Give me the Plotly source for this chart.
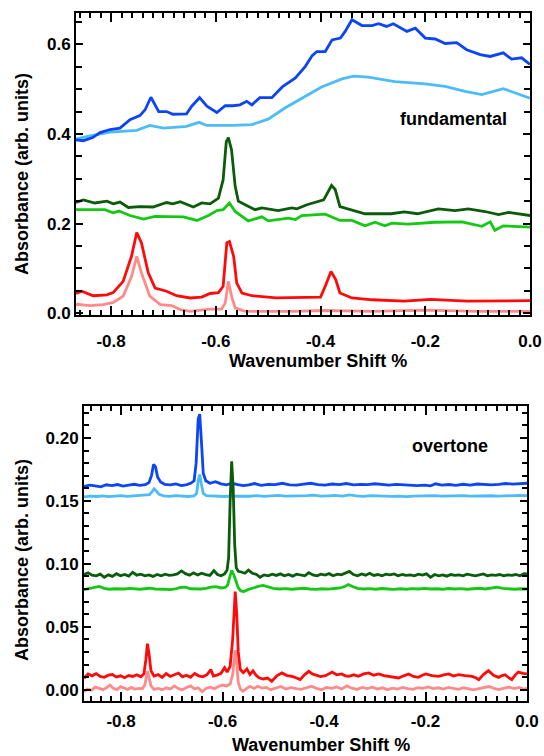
import plotly.graph_objects as go

# ---------------- tick labels ----------------
x_tick_vals = [-0.8, -0.6, -0.4, -0.2, 0.0]
x_tick_text = ["-0.8", "-0.6", "-0.4", "-0.2", "0.0"]

# ---------------- data: fundamental (top panel) ----------------
fund_dark_blue = [(-0.867,0.387),(-0.853,0.385),(-0.835,0.392),(-0.821,0.403),(-0.802,0.410),(-0.783,0.413),
    (-0.764,0.432),(-0.745,0.441),(-0.735,0.454),(-0.724,0.482),(-0.709,0.450),(-0.694,0.450),(-0.682,0.444),
    (-0.656,0.445),(-0.646,0.462),(-0.631,0.481),(-0.617,0.462),(-0.610,0.457),(-0.598,0.448),(-0.582,0.463),
    (-0.567,0.463),(-0.554,0.465),(-0.541,0.473),(-0.531,0.465),(-0.516,0.481),(-0.503,0.481),(-0.493,0.481),
    (-0.473,0.505),(-0.448,0.525),(-0.429,0.551),(-0.416,0.575),(-0.407,0.584),(-0.391,0.584),(-0.378,0.610),
    (-0.362,0.614),(-0.353,0.629),(-0.340,0.655),(-0.321,0.642),(-0.302,0.642),(-0.289,0.646),(-0.274,0.640),
    (-0.261,0.646),(-0.235,0.629),(-0.219,0.636),(-0.200,0.614),(-0.181,0.612),(-0.162,0.602),(-0.140,0.604),
    (-0.121,0.588),(-0.095,0.577),(-0.076,0.573),(-0.051,0.581),(-0.035,0.567),(-0.016,0.570),(0.0,0.555)]
fund_light_blue = [(-0.867,0.389),(-0.840,0.396),(-0.802,0.404),(-0.751,0.408),(-0.726,0.419),(-0.700,0.413),
    (-0.656,0.417),(-0.632,0.426),(-0.617,0.419),(-0.567,0.419),(-0.531,0.421),(-0.500,0.433),(-0.468,0.458),
    (-0.430,0.484),(-0.398,0.505),(-0.359,0.523),(-0.337,0.529),(-0.309,0.527),(-0.280,0.521),(-0.258,0.517),
    (-0.200,0.512),(-0.162,0.506),(-0.124,0.495),(-0.092,0.488),(-0.051,0.501),(0.0,0.480)]
fund_dark_green = [(-0.867,0.247),(-0.853,0.253),(-0.831,0.246),(-0.808,0.250),(-0.796,0.244),(-0.783,0.248),
    (-0.767,0.236),(-0.745,0.238),(-0.720,0.237),(-0.694,0.247),(-0.682,0.244),(-0.668,0.249),(-0.643,0.237),
    (-0.627,0.246),(-0.611,0.244),(-0.595,0.257),(-0.586,0.298),(-0.580,0.383),(-0.576,0.392),(-0.570,0.365),
    (-0.563,0.283),(-0.557,0.250),(-0.544,0.242),(-0.525,0.231),(-0.512,0.235),(-0.481,0.229),(-0.455,0.235),
    (-0.445,0.233),(-0.426,0.242),(-0.394,0.253),(-0.379,0.285),(-0.372,0.276),(-0.363,0.238),(-0.340,0.231),
    (-0.315,0.222),(-0.296,0.222),(-0.265,0.222),(-0.240,0.226),(-0.215,0.222),(-0.175,0.233),(-0.143,0.229),
    (-0.118,0.233),(-0.086,0.227),(-0.060,0.220),(-0.041,0.225),(0.0,0.218)]
fund_light_green = [(-0.867,0.231),(-0.812,0.231),(-0.796,0.224),(-0.785,0.228),(-0.764,0.218),(-0.738,0.210),
    (-0.716,0.216),(-0.688,0.216),(-0.662,0.215),(-0.636,0.207),(-0.614,0.218),(-0.598,0.229),(-0.586,0.231),
    (-0.574,0.246),(-0.563,0.227),(-0.538,0.206),(-0.512,0.215),(-0.500,0.206),(-0.461,0.212),(-0.448,0.209),
    (-0.436,0.218),(-0.391,0.221),(-0.363,0.207),(-0.340,0.207),(-0.315,0.195),(-0.296,0.203),(-0.277,0.195),
    (-0.264,0.201),(-0.233,0.199),(-0.181,0.203),(-0.130,0.204),(-0.092,0.194),(-0.076,0.204),(-0.067,0.185),
    (-0.051,0.195),(0.0,0.192)]
fund_red = [(-0.867,0.044),(-0.856,0.049),(-0.834,0.039),(-0.808,0.041),(-0.796,0.046),(-0.777,0.071),
    (-0.761,0.127),(-0.751,0.180),(-0.742,0.157),(-0.729,0.090),(-0.716,0.056),(-0.694,0.049),(-0.675,0.039),
    (-0.649,0.034),(-0.627,0.036),(-0.611,0.044),(-0.595,0.046),(-0.586,0.060),(-0.579,0.157),(-0.574,0.160),
    (-0.566,0.127),(-0.560,0.067),(-0.550,0.045),(-0.531,0.039),(-0.485,0.034),(-0.400,0.036),(-0.391,0.060),
    (-0.380,0.093),(-0.371,0.075),(-0.363,0.045),(-0.340,0.034),(-0.301,0.030),(-0.240,0.027),(-0.190,0.031),
    (-0.120,0.027),(-0.060,0.027),(0.0,0.028)]
fund_pink = [(-0.867,0.020),(-0.840,0.017),(-0.815,0.019),(-0.796,0.024),(-0.777,0.038),(-0.761,0.082),
    (-0.751,0.127),(-0.742,0.090),(-0.726,0.038),(-0.706,0.019),(-0.684,0.017),(-0.668,0.008),(-0.649,0.004),
    (-0.611,0.009),(-0.589,0.009),(-0.582,0.023),(-0.576,0.071),(-0.570,0.038),(-0.563,0.012),(-0.544,0.004),
    (-0.455,0.004),(-0.391,0.006),(-0.300,0.004),(-0.200,0.007),(-0.100,0.004),(0.0,0.004)]

# ---------------- data: overtone (bottom panel) ----------------
ot_dark_blue = [(-0.873,0.1615),(-0.862,0.1625),(-0.851,0.1620),(-0.840,0.1612),(-0.829,0.1628),(-0.818,0.1622),
    (-0.807,0.1630),(-0.796,0.1618),(-0.785,0.1625),(-0.774,0.1632),(-0.763,0.1624),(-0.752,0.1630),(-0.745,0.1645),
    (-0.740,0.1700),(-0.736,0.1790),(-0.732,0.1770),(-0.728,0.1690),(-0.722,0.1650),(-0.714,0.1632),(-0.703,0.1628),
    (-0.692,0.1635),(-0.681,0.1622),(-0.670,0.1630),(-0.662,0.1642),(-0.656,0.1660),(-0.652,0.1800),(-0.648,0.2150),
    (-0.645,0.2190),(-0.642,0.2000),(-0.638,0.1720),(-0.633,0.1660),(-0.625,0.1640),(-0.614,0.1652),(-0.603,0.1635),
    (-0.592,0.1628),(-0.581,0.1640),(-0.570,0.1630),(-0.559,0.1622),(-0.548,0.1628),(-0.537,0.1638),(-0.524,0.1624),
    (-0.510,0.1632),(-0.496,0.1630),(-0.482,0.1640),(-0.468,0.1628),(-0.454,0.1626),(-0.440,0.1634),(-0.426,0.1640),
    (-0.412,0.1630),(-0.398,0.1626),(-0.384,0.1634),(-0.370,0.1630),(-0.356,0.1638),(-0.342,0.1628),(-0.328,0.1632),
    (-0.314,0.1630),(-0.300,0.1636),(-0.286,0.1630),(-0.272,0.1626),(-0.258,0.1632),(-0.244,0.1628),(-0.230,0.1624),
    (-0.216,0.1622),(-0.202,0.1626),(-0.190,0.1620),(-0.180,0.1636),(-0.168,0.1626),(-0.154,0.1630),(-0.140,0.1624),
    (-0.126,0.1632),(-0.112,0.1626),(-0.098,0.1634),(-0.084,0.1630),(-0.070,0.1628),(-0.056,0.1632),(-0.042,0.1638),
    (-0.028,0.1634),(-0.014,0.1636),(0.0,0.1640)]
ot_light_blue = [(-0.873,0.1532),(-0.860,0.1538),(-0.848,0.1535),(-0.836,0.1540),(-0.824,0.1534),(-0.812,0.1538),
    (-0.800,0.1542),(-0.788,0.1536),(-0.776,0.1540),(-0.764,0.1538),(-0.752,0.1542),(-0.744,0.1550),(-0.738,0.1578),
    (-0.735,0.1595),(-0.731,0.1580),(-0.725,0.1552),(-0.716,0.1540),(-0.704,0.1536),(-0.692,0.1542),(-0.680,0.1538),
    (-0.668,0.1535),(-0.656,0.1540),(-0.651,0.1560),(-0.648,0.1660),(-0.645,0.1710),(-0.642,0.1640),(-0.638,0.1560),
    (-0.632,0.1542),(-0.620,0.1538),(-0.608,0.1540),(-0.596,0.1535),(-0.584,0.1538),(-0.572,0.1536),(-0.560,0.1540),
    (-0.546,0.1537),(-0.532,0.1542),(-0.518,0.1536),(-0.504,0.1540),(-0.490,0.1544),(-0.476,0.1538),(-0.462,0.1540),
    (-0.448,0.1536),(-0.434,0.1542),(-0.420,0.1546),(-0.406,0.1538),(-0.392,0.1540),(-0.378,0.1543),(-0.364,0.1538),
    (-0.350,0.1547),(-0.336,0.1540),(-0.322,0.1536),(-0.308,0.1542),(-0.294,0.1538),(-0.280,0.1540),(-0.266,0.1536),
    (-0.252,0.1538),(-0.238,0.1534),(-0.224,0.1538),(-0.210,0.1540),(-0.196,0.1536),(-0.182,0.1542),(-0.168,0.1538),
    (-0.154,0.1540),(-0.140,0.1536),(-0.126,0.1542),(-0.112,0.1538),(-0.098,0.1540),(-0.084,0.1537),(-0.070,0.1541),
    (-0.056,0.1538),(-0.042,0.1542),(-0.028,0.1540),(-0.014,0.1544),(0.0,0.1542)]
ot_dark_green = [(-0.873,0.0915),(-0.865,0.0928),(-0.857,0.0910),(-0.849,0.0905),(-0.841,0.0918),(-0.833,0.0893),
    (-0.825,0.0912),(-0.817,0.0900),(-0.809,0.0922),(-0.801,0.0905),(-0.793,0.0915),(-0.785,0.0902),(-0.777,0.0933),
    (-0.769,0.0910),(-0.761,0.0918),(-0.753,0.0905),(-0.745,0.0912),(-0.737,0.0900),(-0.729,0.0915),(-0.721,0.0905),
    (-0.713,0.0918),(-0.705,0.0908),(-0.697,0.0912),(-0.689,0.0920),(-0.681,0.0944),(-0.673,0.0922),(-0.665,0.0910),
    (-0.657,0.0928),(-0.649,0.0912),(-0.641,0.0925),(-0.633,0.0915),(-0.625,0.0908),(-0.617,0.0946),(-0.610,0.0915),
    (-0.603,0.0905),(-0.596,0.0920),(-0.591,0.0950),(-0.588,0.1050),(-0.585,0.1500),(-0.582,0.1815),(-0.579,0.1600),
    (-0.576,0.1150),(-0.573,0.0970),(-0.569,0.0940),(-0.563,0.0935),(-0.556,0.0925),(-0.549,0.0950),(-0.541,0.0925),
    (-0.533,0.0915),(-0.526,0.0893),(-0.518,0.0912),(-0.510,0.0905),(-0.502,0.0918),(-0.494,0.0908),(-0.486,0.0920),
    (-0.478,0.0905),(-0.470,0.0915),(-0.462,0.0902),(-0.454,0.0918),(-0.446,0.0910),(-0.438,0.0905),(-0.430,0.0930),
    (-0.422,0.0912),(-0.414,0.0905),(-0.406,0.0918),(-0.398,0.0910),(-0.390,0.0922),(-0.382,0.0905),(-0.374,0.0918),
    (-0.366,0.0912),(-0.358,0.0925),(-0.350,0.0940),(-0.342,0.0915),(-0.334,0.0905),(-0.326,0.0920),(-0.318,0.0910),
    (-0.310,0.0925),(-0.302,0.0908),(-0.294,0.0915),(-0.286,0.0905),(-0.278,0.0918),(-0.270,0.0912),(-0.262,0.0920),
    (-0.254,0.0905),(-0.246,0.0915),(-0.238,0.0908),(-0.230,0.0912),(-0.222,0.0905),(-0.214,0.0918),(-0.206,0.0910),
    (-0.198,0.0920),(-0.190,0.0893),(-0.182,0.0915),(-0.174,0.0905),(-0.166,0.0912),(-0.158,0.0902),(-0.150,0.0915),
    (-0.142,0.0908),(-0.134,0.0912),(-0.126,0.0905),(-0.118,0.0918),(-0.110,0.0910),(-0.102,0.0905),(-0.094,0.0912),
    (-0.086,0.0920),(-0.078,0.0905),(-0.070,0.0912),(-0.062,0.0908),(-0.054,0.0915),(-0.046,0.0905),(-0.038,0.0912),
    (-0.030,0.0908),(-0.022,0.0915),(-0.014,0.0905),(-0.006,0.0922),(0.0,0.0920)]
ot_light_green = [(-0.873,0.0795),(-0.863,0.0802),(-0.853,0.0810),(-0.843,0.0820),(-0.833,0.0805),(-0.823,0.0798),
    (-0.813,0.0802),(-0.803,0.0798),(-0.793,0.0800),(-0.783,0.0805),(-0.773,0.0800),(-0.763,0.0798),(-0.753,0.0802),
    (-0.743,0.0806),(-0.733,0.0800),(-0.723,0.0796),(-0.713,0.0798),(-0.703,0.0795),(-0.693,0.0800),(-0.683,0.0812),
    (-0.673,0.0815),(-0.663,0.0802),(-0.653,0.0798),(-0.643,0.0800),(-0.633,0.0805),(-0.623,0.0815),(-0.613,0.0818),
    (-0.603,0.0808),(-0.595,0.0812),(-0.590,0.0830),(-0.586,0.0890),(-0.582,0.0948),(-0.578,0.0915),(-0.574,0.0860),
    (-0.569,0.0810),(-0.564,0.0785),(-0.558,0.0780),(-0.550,0.0795),(-0.540,0.0810),(-0.530,0.0820),(-0.520,0.0828),
    (-0.510,0.0815),(-0.500,0.0805),(-0.488,0.0800),(-0.476,0.0803),(-0.464,0.0798),(-0.452,0.0802),(-0.440,0.0806),
    (-0.428,0.0800),(-0.416,0.0797),(-0.404,0.0802),(-0.392,0.0799),(-0.380,0.0804),(-0.368,0.0808),(-0.358,0.0822),
    (-0.352,0.0835),(-0.344,0.0820),(-0.334,0.0805),(-0.322,0.0800),(-0.310,0.0803),(-0.298,0.0798),(-0.286,0.0804),
    (-0.274,0.0800),(-0.262,0.0797),(-0.250,0.0802),(-0.238,0.0798),(-0.226,0.0803),(-0.214,0.0800),(-0.202,0.0805),
    (-0.190,0.0800),(-0.178,0.0802),(-0.166,0.0798),(-0.154,0.0804),(-0.142,0.0800),(-0.130,0.0803),(-0.118,0.0798),
    (-0.106,0.0802),(-0.094,0.0806),(-0.082,0.0800),(-0.070,0.0808),(-0.059,0.0815),(-0.048,0.0805),(-0.036,0.0800),
    (-0.024,0.0798),(-0.012,0.0802),(0.0,0.0800)]
ot_red = [(-0.873,0.0090),(-0.865,0.0125),(-0.857,0.0110),(-0.849,0.0128),(-0.841,0.0105),(-0.833,0.0098),
    (-0.825,0.0115),(-0.817,0.0120),(-0.809,0.0100),(-0.801,0.0110),(-0.793,0.0095),(-0.785,0.0112),(-0.777,0.0105),
    (-0.769,0.0118),(-0.761,0.0102),(-0.755,0.0125),(-0.751,0.0240),(-0.748,0.0365),(-0.745,0.0290),(-0.741,0.0150),
    (-0.735,0.0108),(-0.727,0.0120),(-0.719,0.0098),(-0.711,0.0128),(-0.703,0.0105),(-0.695,0.0120),(-0.687,0.0132),
    (-0.679,0.0102),(-0.671,0.0115),(-0.663,0.0098),(-0.655,0.0128),(-0.647,0.0110),(-0.639,0.0102),(-0.631,0.0118),
    (-0.623,0.0160),(-0.618,0.0108),(-0.611,0.0115),(-0.603,0.0130),(-0.596,0.0175),(-0.591,0.0140),(-0.585,0.0185),
    (-0.580,0.0400),(-0.577,0.0700),(-0.575,0.0780),(-0.572,0.0600),(-0.569,0.0300),(-0.565,0.0160),(-0.559,0.0135),
    (-0.552,0.0165),(-0.546,0.0120),(-0.540,0.0150),(-0.534,0.0115),(-0.528,0.0095),(-0.520,0.0085),(-0.511,0.0092),
    (-0.503,0.0067),(-0.493,0.0110),(-0.483,0.0133),(-0.473,0.0112),(-0.463,0.0106),(-0.455,0.0095),(-0.447,0.0080),
    (-0.438,0.0120),(-0.430,0.0146),(-0.423,0.0125),(-0.417,0.0119),(-0.407,0.0104),(-0.397,0.0111),(-0.390,0.0128),
    (-0.384,0.0140),(-0.375,0.0118),(-0.365,0.0125),(-0.358,0.0110),(-0.351,0.0106),(-0.341,0.0118),(-0.332,0.0106),
    (-0.322,0.0125),(-0.312,0.0133),(-0.302,0.0115),(-0.292,0.0125),(-0.282,0.0112),(-0.273,0.0106),(-0.263,0.0100),
    (-0.253,0.0093),(-0.243,0.0110),(-0.233,0.0125),(-0.224,0.0105),(-0.214,0.0098),(-0.206,0.0115),(-0.200,0.0125),
    (-0.187,0.0112),(-0.174,0.0106),(-0.164,0.0118),(-0.154,0.0125),(-0.145,0.0108),(-0.135,0.0119),(-0.122,0.0112),
    (-0.108,0.0106),(-0.101,0.0095),(-0.095,0.0080),(-0.086,0.0120),(-0.076,0.0151),(-0.066,0.0115),(-0.056,0.0098),
    (-0.049,0.0112),(-0.043,0.0119),(-0.036,0.0095),(-0.030,0.0080),(-0.023,0.0118),(-0.017,0.0140),(-0.008,0.0130),
    (0.0,0.0125)]
ot_pink = [(-0.873,-0.0015),(-0.866,0.0005),(-0.858,-0.0005),(-0.851,0.0020),(-0.844,0.0012),(-0.836,0.0000),
    (-0.829,0.0015),(-0.822,0.0037),(-0.815,0.0010),(-0.808,0.0000),(-0.801,0.0024),(-0.794,0.0012),(-0.787,0.0002),
    (-0.780,0.0018),(-0.773,0.0005),(-0.765,0.0010),(-0.758,0.0008),(-0.753,0.0040),(-0.750,0.0110),(-0.748,0.0148),
    (-0.745,0.0100),(-0.741,0.0030),(-0.735,0.0002),(-0.727,0.0010),(-0.719,0.0000),(-0.711,0.0015),(-0.703,0.0005),
    (-0.695,0.0030),(-0.687,0.0008),(-0.679,0.0000),(-0.671,0.0018),(-0.663,0.0030),(-0.655,0.0005),(-0.648,0.0015),
    (-0.640,-0.0016),(-0.632,0.0012),(-0.624,0.0020),(-0.616,0.0008),(-0.608,0.0025),(-0.600,0.0037),(-0.592,0.0030),
    (-0.585,0.0045),(-0.580,0.0120),(-0.577,0.0260),(-0.575,0.0315),(-0.572,0.0200),(-0.569,0.0060),(-0.565,0.0005),
    (-0.560,-0.0013),(-0.553,0.0008),(-0.546,0.0027),(-0.538,0.0010),(-0.530,0.0027),(-0.522,0.0012),(-0.514,0.0018),
    (-0.505,0.0000),(-0.495,0.0012),(-0.485,0.0025),(-0.475,0.0005),(-0.465,0.0018),(-0.455,0.0008),(-0.445,0.0002),
    (-0.435,0.0015),(-0.425,0.0027),(-0.415,0.0010),(-0.405,0.0000),(-0.395,0.0018),(-0.385,0.0010),(-0.375,0.0022),
    (-0.365,0.0005),(-0.355,0.0030),(-0.345,0.0012),(-0.335,0.0002),(-0.325,0.0018),(-0.315,0.0008),(-0.305,0.0020),
    (-0.295,0.0005),(-0.285,0.0015),(-0.275,0.0000),(-0.265,0.0012),(-0.255,0.0005),(-0.245,0.0018),(-0.235,0.0008),
    (-0.225,0.0002),(-0.215,0.0015),(-0.205,0.0010),(-0.195,0.0022),(-0.185,0.0008),(-0.175,0.0015),(-0.165,0.0005),
    (-0.155,0.0018),(-0.145,0.0010),(-0.135,0.0002),(-0.125,0.0015),(-0.115,0.0005),(-0.105,-0.0002),(-0.095,0.0008),
    (-0.085,0.0015),(-0.075,0.0025),(-0.065,0.0010),(-0.055,0.0000),(-0.045,0.0012),(-0.035,0.0020),(-0.025,0.0008),
    (-0.015,0.0018),(-0.007,0.0005),(0.0,0.0010)]

colors = {"dark_blue": "#0b45f5", "light_blue": "#4cbcf7", "dark_green": "#0a5c0a",
          "light_green": "#14c814", "red": "#ff0a0a", "pink": "#ff8a8a"}

top_series = [("light_blue", fund_light_blue), ("dark_blue", fund_dark_blue),
              ("light_green", fund_light_green), ("dark_green", fund_dark_green),
              ("pink", fund_pink), ("red", fund_red)]
bot_series = [("light_blue", ot_light_blue), ("dark_blue", ot_dark_blue),
              ("light_green", ot_light_green), ("dark_green", ot_dark_green),
              ("pink", ot_pink), ("red", ot_red)]

fig = go.Figure()
for name, pts in top_series:
    xs, ys = zip(*pts)
    fig.add_trace(go.Scatter(x=xs, y=ys, mode="lines", line=dict(color=colors[name], width=2.8),
                             xaxis="x", yaxis="y", showlegend=False))
for name, pts in bot_series:
    xs, ys = zip(*pts)
    fig.add_trace(go.Scatter(x=xs, y=ys, mode="lines", line=dict(color=colors[name], width=2.8),
                             xaxis="x2", yaxis="y2", showlegend=False))

W, H = 544, 756
def px(v): return v / W
def py(v): return 1 - v / H

font = dict(family="Liberation Sans, Arial, sans-serif", size=17, color="black", weight="bold")
axis_common = dict(showline=True, linecolor="black", linewidth=2, mirror="ticks", ticks="inside",
                   tickcolor="black", tickwidth=1.5, showgrid=False, zeroline=False, tickfont=font)

fig.update_layout(
    width=W, height=H, margin=dict(l=0, r=0, t=0, b=0, autoexpand=False),
    paper_bgcolor="white", plot_bgcolor="white", font=font, showlegend=False,
    xaxis=dict(axis_common, domain=[px(76), px(530)], range=[-0.867, 0.0], anchor="y",
               tickmode="array", tickvals=x_tick_vals, ticktext=x_tick_text, ticklen=9,
               minor=dict(dtick=0.02, tick0=0, ticks="inside", ticklen=5, tickcolor="black", tickwidth=1.5),
               ticklabelstandoff=10),
    yaxis=dict(axis_common, domain=[py(315), py(13)], range=[-0.004, 0.67], anchor="x",
               tickmode="linear", tick0=0, dtick=0.2, tickformat=".1f", ticklen=7,
               minor=dict(dtick=0.05, tick0=0, ticks="inside", ticklen=6, tickcolor="black", tickwidth=1.5)),
    xaxis2=dict(axis_common, domain=[px(84), px(527)], range=[-0.873, 0.0], anchor="y2",
                tickmode="array", tickvals=x_tick_vals, ticktext=x_tick_text, ticklen=9,
                minor=dict(dtick=0.02, tick0=0, ticks="inside", ticklen=5, tickcolor="black", tickwidth=1.5),
                ticklabelstandoff=4),
    yaxis2=dict(axis_common, domain=[py(701), py(406)], range=[-0.009, 0.2254], anchor="x2",
                tickmode="linear", tick0=0, dtick=0.05, tickformat=".2f", ticklen=7,
                minor=dict(dtick=0.01, tick0=0, ticks="inside", ticklen=5, tickcolor="black", tickwidth=1.5)),
)

title_font = dict(family="Liberation Sans, Arial, sans-serif", size=18, color="black", weight="bold")
ann = [
    dict(text="Absorbance (arb. units)", x=px(22), y=py(174), textangle=-90),
    dict(text="Wavenumber Shift %", x=px(318), y=py(361)),
    dict(text="fundamental", x=px(453), y=py(119)),
    dict(text="Absorbance (arb. units)", x=px(22), y=py(560), textangle=-90),
    dict(text="Wavenumber Shift %", x=px(321), y=py(745)),
    dict(text="overtone", x=px(450), y=py(446)),
]
for a in ann:
    fig.add_annotation(xref="paper", yref="paper", showarrow=False, font=title_font,
                       xanchor="center", yanchor="middle", **a)

fig.write_html("out.html")
